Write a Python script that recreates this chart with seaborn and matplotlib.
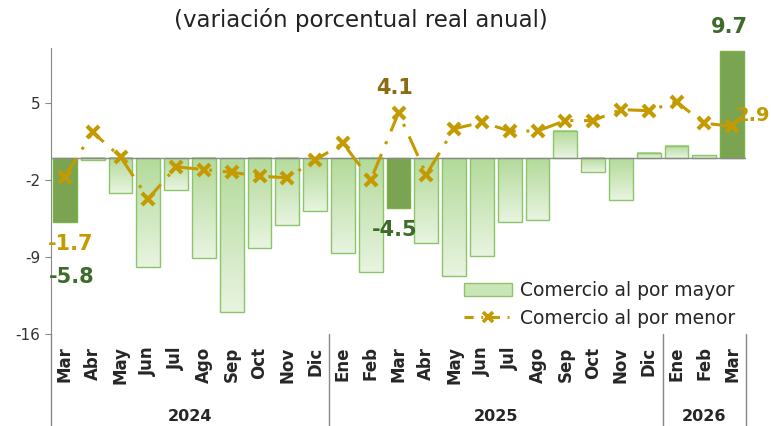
import numpy as np
import pandas as pd
import matplotlib
matplotlib.use("Agg")
import matplotlib.pyplot as plt
from matplotlib.colors import LinearSegmentedColormap
from matplotlib.patches import Patch
from matplotlib.lines import Line2D
import seaborn as sns

# datos
meses = ["Mar", "Abr", "May", "Jun", "Jul", "Ago", "Sep", "Oct", "Nov", "Dic",
         "Ene", "Feb", "Mar", "Abr", "May", "Jun", "Jul", "Ago", "Sep", "Oct", "Nov", "Dic",
         "Ene", "Feb", "Mar"]
anios = ["2024", "2025", "2026"]
meses_por_anio = [10, 12, 3]
mayor = [-5.8, -0.2, -3.2, -9.9, -2.9, -9.1, -14.0, -8.2, -6.1, -4.8,
         -8.6, -10.4, -4.5, -7.7, -10.7, -8.9, -5.8, -5.6, 2.5, -1.3, -3.8, 0.5,
         1.1, 0.25, 9.7]
menor = [-1.7, 2.35, 0.1, -3.7, -0.8, -1.05, -1.3, -1.65, -1.8, -0.2,
         1.35, -2.0, 4.1, -1.5, 2.65, 3.25, 2.45, 2.45, 3.4, 3.4, 4.4, 4.3,
         5.1, 3.15, 2.9]
destacados = [0, 12, 24]

verde = "#79b244"
verde_osc = "#3d6b2a"
borde = "#8cc46a"
dorado = "#c49a00"
dorado_osc = "#8b6a10"

n = len(meses)
df = pd.DataFrame({"pos": np.arange(n), "mayor": mayor, "menor": menor})

sns.set_style("white")
plt.rcParams["font.family"] = ["DejaVu Sans"]
plt.rcParams["axes.unicode_minus"] = False

fig = plt.figure(figsize=(7.71, 4.26), dpi=100)
ax = fig.add_axes([51 / 771, 1 - 334 / 426, 695 / 771, 286 / 426])

sns.barplot(data=df, x="pos", y="mayor", color=verde, width=0.86, ax=ax,
            edgecolor=borde, linewidth=1.0, zorder=2)

# relleno degradado (oscuro arriba, claro abajo) para las barras normales
cmap = LinearSegmentedColormap.from_list("g", ["#e8f4e0", "#b3da9a"])
grad = np.linspace(0, 1, 100).reshape(-1, 1)
for i, p in enumerate(ax.patches):
    if i in destacados:
        p.set_edgecolor(verde)
        continue
    x0, w = p.get_x(), p.get_width()
    y0, h = p.get_y(), p.get_height()
    lo, hi = min(y0, y0 + h), max(y0, y0 + h)
    ax.imshow(grad, extent=[x0, x0 + w, lo, hi], origin="lower", aspect="auto",
              cmap=cmap, zorder=1.9, interpolation="bilinear")
    p.set_facecolor("none")

ax.axhline(0, color="#8a8a8a", lw=1.0, zorder=2.5)

sns.lineplot(data=df, x="pos", y="menor", ax=ax, color=dorado, lw=2.2,
             linestyle=(0, (7, 3.5, 1, 3.5)), marker="x", markersize=8,
             markeredgewidth=3, markeredgecolor=dorado, zorder=3)

ax.set_xlim(-0.5, n - 0.5)
ax.set_ylim(-16, 10)
ax.set_yticks([5, -2, -9, -16])
ax.tick_params(axis="y", labelsize=11, labelcolor="#333333", length=4,
               color="#888888", direction="out", left=True)
ax.set_xticks(np.arange(n))
ax.set_xticklabels(meses, rotation=90, fontweight="bold", fontsize=12)
ax.tick_params(axis="x", length=0, pad=9)
ax.set_xlabel("")
ax.set_ylabel("")
for s in ["top", "right", "bottom"]:
    ax.spines[s].set_visible(False)
ax.spines["left"].set_color("#888888")

# separadores y años
tr = ax.get_xaxis_transform()
inicio = -0.5
for anio, k in zip(anios, meses_por_anio):
    fin = inicio + k
    ax.plot([fin, fin], [0, -0.33], transform=tr, color="#888888", lw=1, clip_on=False)
    ax.text((inicio + fin) / 2, -0.29, anio, transform=tr, ha="center", va="center",
            fontsize=11.5, fontweight="bold")
    inicio = fin
ax.plot([-0.5, -0.5], [0, -0.33], transform=tr, color="#888888", lw=1, clip_on=False)

# etiquetas de datos
ax.text(0.2, -7.8, "-1.7", color=dorado, fontsize=15, fontweight="bold", ha="center", va="center")
ax.text(0.25, -10.8, "-5.8", color=verde_osc, fontsize=15, fontweight="bold", ha="center", va="center")
ax.text(11.85, 6.4, "4.1", color=dorado_osc, fontsize=15, fontweight="bold", ha="center", va="center")
ax.text(11.85, -6.5, "-4.5", color=verde_osc, fontsize=15, fontweight="bold", ha="center", va="center")
ax.text(23.9, 11.9, "9.7", color=verde_osc, fontsize=15, fontweight="bold", ha="center", va="center", clip_on=False)
ax.text(24.12, 3.9, "2.9", color=dorado, fontsize=14, fontweight="bold", ha="left", va="center", clip_on=False)

handles = [Patch(facecolor="#cbe6b6", edgecolor=borde, lw=1),
           Line2D([], [], color=dorado, lw=2.2, linestyle=(0, (3, 2.5, 0.6, 2.5)), marker="x",
                  markersize=7, markeredgewidth=2.6)]
ax.legend(handles, ["Comercio al por mayor", "Comercio al por menor"], loc="lower right",
          bbox_to_anchor=(0.995, -0.005), frameon=False, fontsize=13.5, handlelength=2.6,
          handletextpad=0.4, labelspacing=0.45, borderaxespad=0.0)

fig.text(361 / 771, 1 - 20 / 426, "(variación porcentual real anual)", ha="center", va="center",
         fontsize=16.5, color="#222222")

fig.savefig("out.png", dpi=100)
